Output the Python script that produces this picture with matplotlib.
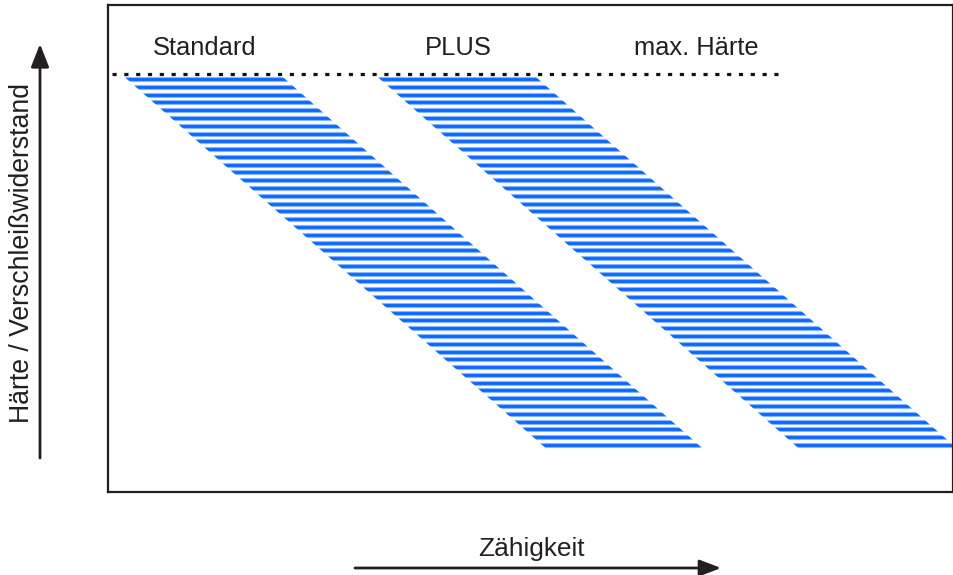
import matplotlib
matplotlib.use("Agg")
import matplotlib.pyplot as plt
from matplotlib.patches import Polygon, FancyArrowPatch
import numpy as np

plt.rcParams['font.family'] = ['Liberation Sans', 'DejaVu Sans']

# ---- data (abstract units: x 0..100 toughness, y 0..100 hardness) ----
band_names = ["Standard", "PLUS"]
band_top_left = [2.25, 32.2]
band_top_right = [20.95, 50.9]
band_bottom_left = [51.4, 81.3]
band_bottom_right = [69.9, 100.0]
band_y_top = 84.8
band_y_bottom = 9.65
n_stripes = 48

label_texts = ["Standard", "PLUS", "max. Härte"]
label_x = [11.4, 41.5, 69.6]
label_y = 91.2

max_line_y = 85.8
max_line_x = [0.5, 79.3]

xlabel = "Zähigkeit"
ylabel = "Härte / Verschleißwiderstand"

W, H = 954, 575
fig = plt.figure(figsize=(W / 100, H / 100), dpi=100)
ax = fig.add_axes([108 / W, 1 - 492 / H, (953 - 108) / W, (492 - 5) / H])
ax.set_xlim(0, 100)
ax.set_ylim(0, 100)
ax.set_xticks([])
ax.set_yticks([])
for s in ax.spines.values():
    s.set_linewidth(1.6)
    s.set_color('#231f20')

ys = np.linspace(band_y_bottom, band_y_top, n_stripes)
pad = 1.2
for tl, tr, bl, br in zip(band_top_left, band_top_right, band_bottom_left, band_bottom_right):
    slope = (bl - tl) / (band_y_bottom - band_y_top)  # dx per dy
    yt, yb = band_y_top + pad, band_y_bottom - pad
    poly = Polygon([
        (tl + slope * pad, yt), (tr + slope * pad, yt),
        (br - slope * pad, yb), (bl - slope * pad, yb)],
        closed=True, facecolor='none', edgecolor='none')
    ax.add_patch(poly)
    xmin = min(tl, bl) - 5
    xmax = max(tr, br) + 5
    halo = ax.hlines(ys, xmin, xmax, colors='#86b6ff', linewidth=3.7)
    core = ax.hlines(ys, xmin, xmax, colors='#0a66ff', linewidth=2.0)
    halo.set_clip_path(poly)
    core.set_clip_path(poly)

ax.plot(max_line_x, [max_line_y, max_line_y], color='#111111', linewidth=2.3,
        linestyle=(0, (1.3, 2.4)), dash_capstyle='butt')

for t, x in zip(label_texts, label_x):
    ax.text(x, label_y, t, ha='center', va='center', fontsize=18.4, color='#231f20')

# axis labels and arrows (figure coordinates)
def fx(px):
    return px / W

def fy(py):
    return 1 - py / H

fig.text(fx(22), fy(253), ylabel, rotation=90, ha='center', va='center',
         fontsize=19.2, color='#231f20')
fig.text(fx(531), fy(549), xlabel, ha='center', va='center',
         fontsize=18.9, color='#231f20')

arr_y = FancyArrowPatch((fx(40), fy(458)), (fx(40), fy(44)), transform=fig.transFigure,
                        arrowstyle='-|>,head_length=14,head_width=5.5', mutation_scale=1,
                        color='#231f20', linewidth=2.0, shrinkA=0, shrinkB=0)
arr_x = FancyArrowPatch((fx(355), fy(568)), (fx(721), fy(568)), transform=fig.transFigure,
                        arrowstyle='-|>,head_length=13,head_width=5', mutation_scale=1,
                        color='#231f20', linewidth=2.0, shrinkA=0, shrinkB=0)
fig.patches.extend([arr_y, arr_x])

fig.savefig('out.png', dpi=100)
